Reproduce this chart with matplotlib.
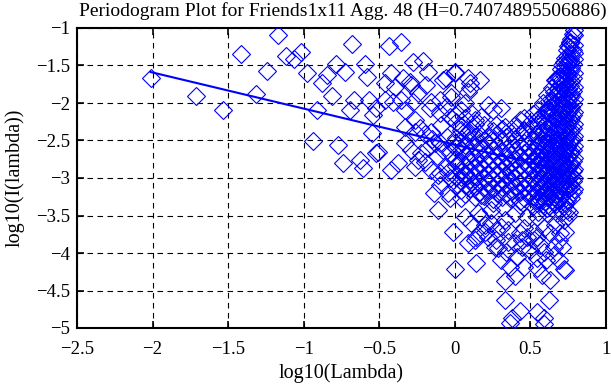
import matplotlib
matplotlib.use("Agg")
import matplotlib.pyplot as plt

plt.rcParams['font.family'] = ['Liberation Serif', 'DejaVu Serif']

title = "Periodogram Plot for Friends1x11 Agg. 48 (H=0.74074895506886)"
xlabel = "log10(Lambda)"
ylabel = "log10(I(lambda))"

xticks = [-2.5, -2, -1.5, -1, -0.5, 0, 0.5, 1]
xtick_labels = ['\u22122.5', '\u22122', '\u22121.5', '\u22121', '\u22120.5', '0', '0.5', '1']
yticks = [-5, -4.5, -4, -3.5, -3, -2.5, -2, -1.5, -1]
ytick_labels = ['\u22125', '\u22124.5', '\u22124', '\u22123.5', '\u22123', '\u22122.5', '\u22122', '\u22121.5', '\u22121']

# sparse points read individually (low frequencies)
sparse_x = [-2.013, -1.712, -1.536, -1.414, -1.316, -1.243, -1.171, -1.118, -1.066, -1.02,
            -0.98, -0.941, -0.914, -0.882, -0.849, -0.816, -0.789, -0.77, -0.743, -0.724,
            -0.697, -0.678, -0.664, -0.625, -0.605, -0.592, -0.579, -0.566, -0.546, -0.539,
            -0.52, -0.52, -0.507, -0.461, -0.461, -0.434, -0.421, -0.421, -0.408, -0.395,
            -0.375, -0.355, -0.355, -0.342, -0.329, -0.329, -0.329, -0.296, -0.29, -0.29,
            -0.276, -0.276, -0.263, -0.263, -0.263, -0.243, -0.243, -0.23, -0.224, -0.211,
            -0.197, -0.191, -0.178, -0.164, -0.158, -0.158, -0.158, -0.138, -0.132, -0.112,
            -0.112, -0.099, -0.099, -0.099, -0.099, -0.099, -0.079, -0.059, -0.046, -0.046,
            -0.033, -0.033, -0.033, -0.026, -0.013, 0.0, 0.0, 0.0, 0.0,
            -0.05, -0.08, -0.12, -0.02, -0.15, -0.06, -0.03, -0.2, -0.18, -0.09]
sparse_y = [-1.667, -1.91, -2.09, -1.35, -1.88, -1.573, -1.093, -1.373, -1.41, -1.32,
            -1.6, -2.507, -2.093, -1.733, -1.627, -1.907, -1.48, -2.56, -2.8, -1.587,
            -2.093, -1.213, -1.96, -2.76, -2.867, -1.48, -1.653, -1.96, -2.4, -2.16,
            -2.07, -2.667, -2.653, -1.96, -1.733, -1.24, -1.6, -2.893, -1.987, -1.787,
            -2.8, -1.187, -1.96, -1.667, -2.093, -2.32, -2.533, -1.72, -1.76, -2.627,
            -1.453, -1.987, -2.227, -2.387, -2.853, -1.867, -2.76, -2.333, -2.667, -1.44,
            -2.787, -1.76, -1.587, -2.067, -1.987, -2.387, -2.893, -3.2, -2.533, -2.96,
            -3.427, -1.96, -2.133, -2.933, -3.09, -2.533, -1.693, -2.053, -2.92, -3.2,
            -2.187, -2.667, -3.27, -1.867, -3.72, -2.16, -2.76, -4.21, -1.6,
            -2.45, -2.62, -2.7, -2.55, -2.48, -2.85, -3.0, -2.42, -2.6, -2.3]

# scattered points of the upper and lower parts of the cloud
cloud_x = [0.0, -0.059, 0.086, 0.164, 0.099, 0.099, 0.086, 0.217, 0.303, 0.25,
           0.066, 0.039, -0.026, 0.105, 0.171, 0.132, 0.434, 0.546, 0.414, 0.46,
           0.329, 0.27, 0.039, 0.086,
           0.138, 0.329, 0.375, 0.368, 0.434, 0.546, 0.592, 0.592, 0.625, 0.395,
           0.329, 0.303, 0.362, 0.46, 0.546, 0.632, 0.579, 0.724, 0.691, 0.658,
           0.546, 0.6, 0.5, 0.414, 0.336, 0.283, 0.263, 0.132, 0.086, 0.138,
           0.164, 0.197, 0.217, 0.27, 0.349, 0.395, 0.447, 0.447, 0.526, 0.566,
           0.592, 0.658, 0.691, 0.711, 0.73, 0.066, 0.151, 0.105, 0.197, 0.237,
           0.27, 0.303, 0.349, 0.428, 0.46, 0.48, 0.526, 0.546, 0.592, 0.632,
           0.665, 0.697, 0.73, 0.757, 0.724, 0.678, 0.612, 0.546, 0.48, 0.395,
           0.329, 0.237, 0.171, 0.25, 0.316, 0.434, 0.546, 0.658, 0.743, 0.171,
           0.039, 0.039, 0.066,
           0.789, 0.763, 0.757, 0.789, 0.743, 0.763, 0.73, 0.697, 0.678, 0.665,
           0.743, 0.632, 0.612, 0.658, 0.691]
cloud_y = [-1.59, -1.67, -1.67, -1.69, -1.74, -1.8, -1.85, -2.03, -2.07, -2.09,
           -2.0, -2.09, -1.92, -2.13, -2.19, -2.23, -2.23, -2.23, -2.32, -2.36,
           -2.32, -2.29, -2.36, -2.4,
           -4.13, -4.63, -4.87, -4.93, -4.77, -4.79, -4.87, -4.95, -4.63, -4.31,
           -4.37, -4.09, -4.19, -4.19, -4.2, -4.36, -4.29, -4.21, -4.09, -4.03,
           -4.07, -4.09, -3.96, -4.05, -3.99, -3.93, -3.92, -3.83, -3.87, -3.79,
           -3.73, -3.72, -3.79, -3.83, -3.85, -3.87, -3.83, -3.92, -3.83, -3.89,
           -3.99, -3.92, -3.83, -3.92, -4.23, -3.52, -3.47, -3.6, -3.63, -3.6,
           -3.69, -3.65, -3.69, -3.73, -3.67, -3.79, -3.72, -3.79, -3.67, -3.73,
           -3.63, -3.73, -3.72, -3.45, -3.56, -3.47, -3.47, -3.52, -3.52, -3.47,
           -3.56, -3.43, -3.52, -3.33, -3.39, -3.36, -3.33, -3.33, -3.43, -3.23,
           -3.27, -2.99, -2.93,
           -1.09, -1.19, -1.25, -1.33, -1.38, -1.45, -1.52, -1.65, -1.72, -1.69,
           -1.6, -2.05, -2.12, -1.92, -1.85]

# dense core of the cloud, column by column
core_x = [0.01, 0.04, 0.07, 0.10, 0.13, 0.16, 0.19, 0.22, 0.25, 0.28,
          0.31, 0.34, 0.37, 0.40, 0.43, 0.46, 0.49, 0.52, 0.55, 0.58,
          0.61, 0.64, 0.67, 0.70, 0.72, 0.74, 0.76, 0.78,
          0.535, 0.565, 0.595, 0.625, 0.655, 0.685, 0.71, 0.73, 0.75, 0.77, 0.785]
core_y = [
    [-2.25, -2.47, -2.6, -2.74, -2.84, -2.99, -3.1],
    [-2.31, -2.52, -2.63, -2.79, -2.92, -3.04, -3.16],
    [-2.2, -2.43, -2.56, -2.69, -2.83, -2.95, -3.09, -3.21],
    [-2.36, -2.5, -2.66, -2.77, -2.91, -3.01, -3.13],
    [-2.28, -2.46, -2.57, -2.73, -2.86, -2.97, -3.11, -3.26],
    [-2.41, -2.53, -2.66, -2.81, -2.92, -3.06, -3.18],
    [-2.3, -2.49, -2.6, -2.76, -2.88, -3.0, -3.13, -3.24],
    [-2.46, -2.55, -2.71, -2.82, -2.96, -3.05, -3.16],
    [-2.38, -2.51, -2.62, -2.77, -2.9, -3.03, -3.14, -3.28],
    [-2.42, -2.58, -2.71, -2.83, -2.94, -3.07, -3.2],
    [-2.35, -2.5, -2.64, -2.79, -2.9, -3.01, -3.12, -3.26],
    [-2.45, -2.61, -2.72, -2.86, -2.96, -3.08, -3.21],
    [-2.4, -2.55, -2.69, -2.8, -2.93, -3.04, -3.17, -3.28],
    [-2.3, -2.48, -2.63, -2.75, -2.89, -3.0, -3.1, -3.23],
    [-2.42, -2.57, -2.7, -2.83, -2.94, -3.07, -3.18, -3.31],
    [-2.2, -2.38, -2.53, -2.66, -2.79, -2.9, -3.03, -3.14, -3.27],
    [-2.28, -2.45, -2.61, -2.72, -2.85, -2.96, -3.08, -3.21],
    [-2.15, -2.35, -2.5, -2.65, -2.76, -2.89, -3.0, -3.13, -3.24, -3.38],
    [-2.1, -2.28, -2.45, -2.58, -2.71, -2.82, -2.95, -3.06, -3.19, -3.3, -3.45],
    [-2.0, -2.2, -2.37, -2.5, -2.63, -2.74, -2.87, -2.98, -3.11, -3.22, -3.35],
    [-1.9, -2.08, -2.26, -2.4, -2.54, -2.67, -2.78, -2.91, -3.02, -3.15, -3.26, -3.4],
    [-1.8, -1.98, -2.16, -2.3, -2.46, -2.58, -2.71, -2.82, -2.95, -3.06, -3.19, -3.3],
    [-1.7, -1.88, -2.05, -2.21, -2.35, -2.49, -2.6, -2.73, -2.84, -2.97, -3.08, -3.21, -3.35],
    [-1.55, -1.75, -1.93, -2.08, -2.23, -2.36, -2.51, -2.62, -2.75, -2.86, -2.99, -3.1, -3.25],
    [-1.45, -1.63, -1.8, -1.97, -2.1, -2.26, -2.4, -2.55, -2.68, -2.81, -2.92, -3.06, -3.2, -3.38],
    [-1.3, -1.5, -1.69, -1.85, -2.01, -2.15, -2.31, -2.45, -2.59, -2.7, -2.85, -2.96, -3.11, -3.3],
    [-1.2, -1.41, -1.58, -1.77, -1.92, -2.09, -2.24, -2.39, -2.52, -2.67, -2.8, -2.95, -3.08, -3.22],
    [-1.08, -1.29, -1.48, -1.67, -1.84, -2.01, -2.16, -2.33, -2.48, -2.63, -2.77, -2.91, -3.04, -3.18],
    [-2.42, -2.57, -2.7, -2.81, -2.93, -3.05, -3.17, -3.29],
    [-2.19, -2.36, -2.52, -2.66, -2.78, -2.91, -3.03, -3.15, -3.28],
    [-2.13, -2.3, -2.45, -2.57, -2.69, -2.81, -2.94, -3.07, -3.18, -3.31],
    [-1.98, -2.14, -2.33, -2.47, -2.6, -2.75, -2.88, -3.0, -3.12, -3.24, -3.38],
    [-1.86, -2.02, -2.2, -2.38, -2.52, -2.65, -2.77, -2.9, -3.01, -3.13, -3.26],
    [-1.66, -1.81, -1.99, -2.14, -2.29, -2.42, -2.55, -2.68, -2.79, -2.92, -3.04, -3.16, -3.3],
    [-1.5, -1.69, -1.86, -2.02, -2.17, -2.31, -2.45, -2.58, -2.71, -2.83, -2.95, -3.08, -3.22, -3.45],
    [-1.4, -1.57, -1.74, -1.9, -2.05, -2.2, -2.34, -2.49, -2.63, -2.75, -2.89, -3.01, -3.15, -3.33],
    [-1.24, -1.45, -1.63, -1.81, -1.96, -2.12, -2.27, -2.42, -2.56, -2.72, -2.87, -3.0, -3.14, -3.5],
    [-1.15, -1.35, -1.53, -1.71, -1.88, -2.05, -2.2, -2.36, -2.5, -2.65, -2.82, -2.98, -3.12, -3.27],
    [-1.03, -1.23, -1.42, -1.6, -1.79, -1.95, -2.12, -2.28, -2.44, -2.58, -2.73, -2.88, -3.0, -3.14],
]

# least-squares fit line endpoints
fit_x = [-2.013, 0.79]
fit_y = [-1.587, -2.937]

all_x = list(sparse_x) + list(cloud_x)
all_y = list(sparse_y) + list(cloud_y)
for cx, ys in zip(core_x, core_y):
    all_x += [cx] * len(ys)
    all_y += ys

fig = plt.figure(figsize=(6.11, 3.85), dpi=100)
ax = fig.add_axes([77/611, 1 - 328/385, (606 - 77)/611, 300/385])

blue = (0, 0, 1)
ax.plot(all_x, all_y, linestyle='none', marker='D', markersize=9.5,
        markerfacecolor='none', markeredgecolor=blue, markeredgewidth=0.8, zorder=3)
ax.plot(fit_x, fit_y, color=blue, linewidth=1.5, zorder=4)

ax.set_xlim(-2.5, 1)
ax.set_ylim(-5, -1)
ax.set_xticks(xticks)
ax.set_xticklabels(xtick_labels)
ax.set_yticks(yticks)
ax.set_yticklabels(ytick_labels)
ax.tick_params(direction='in', length=5, width=1.2, top=True, right=True,
               labelsize=13.5, colors='black')
ax.tick_params(axis='x', pad=9)
ax.tick_params(axis='y', pad=5)
ax.grid(True, color='black', linestyle=(0, (5, 4)), linewidth=0.8)
for sp in ax.spines.values():
    sp.set_linewidth(1.5)

ax.set_xlabel(xlabel, fontsize=14.5, labelpad=4)
ax.set_ylabel(ylabel, fontsize=14.5, labelpad=8)
fig.text(343/611, 1 - 11/385, title, ha='center', va='center', fontsize=14)

fig.savefig("out.png", dpi=100)
